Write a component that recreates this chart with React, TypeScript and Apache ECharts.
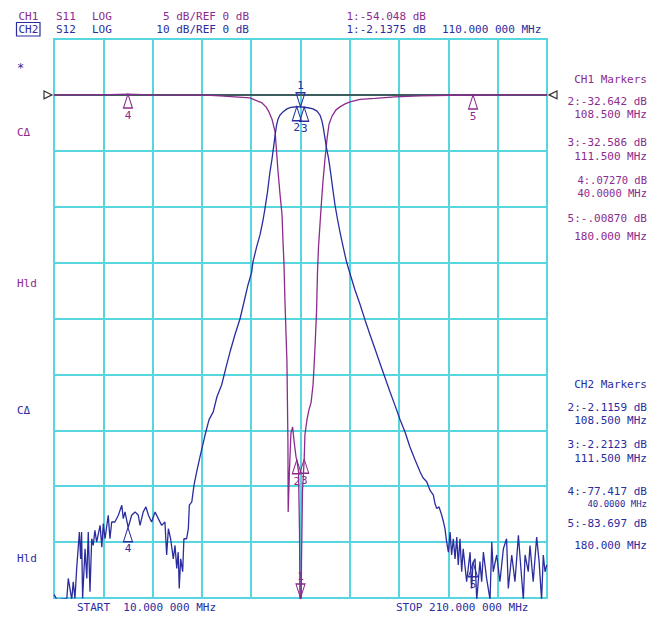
import React, { useEffect, useRef } from "react";
import * as echarts from "echarts";

// ---------- scales ----------
const START_MHZ = 10;
const STOP_MHZ = 210;
const CH1_MIN = -45; // 5 dB/div, ref 0 dB at division 9
const CH1_MAX = 5;
const CH2_MIN = -90; // 10 dB/div
const CH2_MAX = 10;
const DIVISIONS = 10;

// ---------- CH1 S11 trace (MHz, dB) ----------
const S11_FREQ = [
  10, 28.7, 40, 48.9, 71.3, 77.3, 83.4, 89.5, 92.4, 94.4, 96.0, 97.2, 98.4, 99.7,
  100.3, 100.9, 101.7, 102.5, 102.9, 103.3, 103.7, 104.1, 104.5, 104.7, 104.9, 105.0,
  105.5, 106.1, 106.8, 107.4, 108.2, 108.5, 109.2, 109.6, 110.0, 110.4, 110.8, 111.5,
  111.8, 112.6, 113.4, 114.3, 115.1, 115.5, 115.9, 116.5, 116.9, 117.3, 117.9, 118.5,
  119.1, 119.9, 120.8, 121.6, 122.8, 124.4, 126.0, 128.1, 130.1, 134.1, 140.2, 148.3,
  158.5, 170.7, 180, 210,
];
const S11_DB = [
  0, 0, 0.07, 0, -0.02, -0.09, -0.18, -0.27, -0.54, -0.72, -1.07, -1.52, -2.15, -3.3,
  -5.1, -6.9, -8.9, -10.7, -13.1, -15.1, -18.5, -21.2, -23.9, -27.5, -31.0, -37.3,
  -33.7, -30.3, -29.7, -31.0, -32.4, -32.64, -33.7, -39.1, -54.05, -41.8, -35.5, -32.59,
  -30.4, -29.1, -28.2, -27.5, -25.9, -24.3, -22.5, -19.4, -15.8, -13.6, -11.6, -9.6,
  -7.8, -5.8, -3.85, -2.6, -1.9, -1.34, -1.07, -0.8, -0.63, -0.4, -0.31, -0.18,
  -0.09, -0.03, -0.01, 0,
];

// ---------- CH2 S12 trace (MHz, dB) ----------
const S12_FREQ = [
  10.0, 11.2, 13.2, 15.2, 15.8, 17.2, 17.8, 18.5, 19.2, 20.3, 20.8, 21.2, 21.6, 22.6,
  23.3, 23.9, 24.6, 25.3, 25.9, 26.6, 27.3, 28.7, 29.4, 30.0, 30.7, 32.0, 32.7, 33.4,
  34.7, 36.1, 37.5, 38.1, 38.8, 40.1, 41.5, 42.9, 44.2, 44.9, 46.2, 47.3, 48.3, 49.6,
  51.0, 52.3, 53.7, 55.0, 55.7, 56.4, 57.3, 58.4, 59.1, 59.8, 60.4, 60.8, 61.4, 62.2,
  62.7, 63.8, 64.5, 64.9, 65.9, 66.8, 67.9, 69.2, 71.3, 72.9, 74.6, 76.1, 78.0, 79.8,
  81.4, 83.4, 85.5, 87.1, 88.7, 90.2, 90.7, 92.2, 93.6, 94.8, 95.6, 96.6, 97.6, 98.4,
  99.0, 99.7, 100.3, 100.9, 101.7, 103.0, 104.5, 106.1, 108.5, 110.0, 111.5, 113.0,
  115.1, 116.7, 117.9, 118.7, 119.3, 119.9, 120.6, 121.4, 122.0, 123.0, 124.0, 125.0,
  126.0, 127.3, 128.7, 130.1, 132.1, 134.1, 136.2, 138.2, 140.2, 142.3, 144.3, 146.3,
  148.3, 150.4, 152.4, 154.4, 156.5, 158.5, 159.7, 161.2, 162.5, 163.9, 164.6, 165.3,
  166.2, 167.3, 168.0, 168.6, 169.3, 170.0, 170.7, 171.3, 172.0, 172.7, 173.4, 174.0,
  174.7, 175.4, 176.0, 177.4, 178.8, 179.4, 180.0, 180.8, 181.5, 182.8, 183.5, 184.2,
  185.5, 186.9, 187.6, 188.2, 189.6, 190.9, 192.3, 193.6, 194.3, 195.7, 197.0, 198.4,
  199.0, 200.4, 201.1, 202.4, 203.1, 204.4, 205.8, 206.8, 207.8, 208.5, 209.2, 209.9,
];
const S12_DB = [
  -89.4, -90.3, -90.2, -90.1, -86.5, -90.3, -87.1, -90.1, -84.7, -78.2, -83.0, -78.2, -90.1, -81.2,
  -86.5, -78.2, -88.9, -79.4, -80.6, -77.9, -80.0, -77.0, -80.9, -76.7, -79.4, -75.2, -79.4, -76.4,
  -76.4, -75.2, -73.4, -75.8, -74.6, -77.4, -75.2, -74.6, -75.2, -77.0, -74.6, -73.7, -75.2, -76.4,
  -74.6, -75.8, -77.0, -76.4, -82.3, -77.6, -79.4, -83.0, -80.6, -84.7, -81.8, -88.3, -83.0, -85.3,
  -79.4, -79.4, -77.6, -73.4, -72.8, -69.8, -67.4, -64.8, -60.8, -58.1, -56.7, -54.0, -51.9, -48.7,
  -46.0, -42.9, -40.0, -37.0, -34.0, -31.7, -29.9, -27.2, -25.0, -22.4, -20.3, -17.4, -13.8, -11.6,
  -9.6, -7.2, -5.4, -4.3, -3.6, -3.0, -2.5, -2.24, -2.12, -2.14, -2.21, -2.3,
  -2.5, -2.9, -3.6, -4.65, -6.0, -7.7, -9.6, -11.4, -13.2, -16.5, -19.7, -22.2,
  -24.5, -27.2, -29.9, -32.0, -34.9, -37.4, -40.3, -42.9, -45.4, -48.1, -50.6, -53.1,
  -55.5, -58.1, -60.3, -63.0, -65.3, -67.4, -68.5, -69.2, -70.7, -71.6, -73.2, -74.0,
  -73.7, -75.2, -76.4, -77.6, -80.0, -81.8, -78.2, -82.3, -79.4, -83.0, -79.1, -84.1,
  -79.4, -85.3, -81.2, -87.1, -81.8, -88.3, -83.7, -83.0, -90.3, -83.5, -87.1, -81.8,
  -86.5, -90.3, -80.0, -85.3, -82.3, -87.1, -81.2, -79.4, -88.3, -82.3, -87.1, -78.8,
  -82.3, -90.3, -82.3, -85.3, -80.6, -87.1, -79.1, -83.5, -90.3, -82.3, -85.3, -84.1,
];

// ---------- reference line ----------
const REF_FREQ = [START_MHZ, STOP_MHZ];
const REF_DB = [0, 0];

// ---------- markers ----------
const MARKER_NAMES = ["1", "2", "3", "4", "5"];
const MARKER_FREQ = [110, 108.5, 111.5, 40, 180];
const CH1_MARKER_DB = [-54.048, -32.642, -32.586, 0.0727, -0.0087];
const CH2_MARKER_DB = [-2.1375, -2.1159, -2.2123, -77.417, -83.697];

// ---------- readout texts ----------
const HEADER_CH1 = ["CH1", "S11", "LOG", "5 dB/REF 0 dB", "1:-54.048 dB"];
const HEADER_CH2 = ["CH2", "S12", "LOG", "10 dB/REF 0 dB", "1:-2.1375 dB", "110.000 000 MHz"];
const CH1_READOUT = [
  "CH1 Markers", "2:-32.642 dB", "108.500 MHz", "3:-32.586 dB", "111.500 MHz",
  "4:.07270 dB", "40.0000 MHz", "5:-.00870 dB", "180.000 MHz",
];
const CH2_READOUT = [
  "CH2 Markers", "2:-2.1159 dB", "108.500 MHz", "3:-2.2123 dB", "111.500 MHz",
  "4:-77.417 dB", "40.0000 MHz", "5:-83.697 dB", "180.000 MHz",
];
const LEFT_LABELS_CH1 = ["CΔ", "Hld"];
const LEFT_LABELS_CH2 = ["CΔ", "Hld"];
const START_TEXT = "START  10.000 000 MHz";
const STOP_TEXT = "STOP 210.000 000 MHz";

// ---------- styles ----------
const PURPLE = "#8c2b8e";
const BLUE = "#2b2d9e";
const CYAN = "#57d6df";
const MONO = '"DejaVu Sans Mono", "Liberation Mono", monospace';

function txt(x: number, y: number, text: string, fill: string, align = "left", size = 11) {
  return {
    type: "text",
    x,
    y,
    silent: true,
    style: {
      text,
      fill,
      font: `${size}px ${MONO}`,
      textAlign: align,
      align,
      textVerticalAlign: "middle",
      verticalAlign: "middle",
    },
  };
}

function markerItems(dbs: number[], min: number, color: string) {
  return MARKER_NAMES.map((name, i) => {
    const active = i === 0;
    const v = Math.max(dbs[i], min);
    return {
      name,
      coord: [MARKER_FREQ[i], v],
      symbol: "triangle",
      symbolSize: [9, 14],
      symbolRotate: active ? 180 : 0,
      symbolOffset: [0, active ? "-50%" : "50%"],
      itemStyle: { color: "rgba(255,255,255,0)", borderColor: color, borderWidth: 1.2 },
      label: {
        show: true,
        formatter: "{b}",
        position: active ? "top" : "bottom",
        distance: 1,
        color,
        fontSize: 11,
        fontFamily: MONO,
      },
    };
  });
}

export default function App() {
  const ref = useRef<HTMLDivElement>(null);

  useEffect(() => {
    if (!ref.current) return;
    const chart = echarts.init(ref.current, undefined, { renderer: "svg" });

    const zip = (xs: number[], ys: number[]) => xs.map((x, i) => [x, ys[i]]);
    const divAxis = {
      type: "value",
      min: 0,
      max: DIVISIONS,
      interval: 1,
      axisLine: { show: false },
      axisTick: { show: false },
      axisLabel: { show: false },
      splitLine: { show: true, lineStyle: { color: CYAN, width: 2 } },
    };

    const graphic: any[] = [];
    // header rows
    const hx = [18.5, 56, 92];
    HEADER_CH1.slice(0, 3).forEach((s, i) => graphic.push(txt(hx[i], 16, s, PURPLE)));
    graphic.push(txt(249, 16, HEADER_CH1[3], PURPLE, "right"));
    graphic.push(txt(346.5, 16, HEADER_CH1[4], PURPLE));
    graphic.push({
      type: "line",
      silent: true,
      shape: { x1: 18, y1: 22.5, x2: 38.5, y2: 22.5 },
      style: { stroke: PURPLE, lineWidth: 1 },
    });
    HEADER_CH2.slice(0, 3).forEach((s, i) => graphic.push(txt(hx[i], 29.5, s, BLUE)));
    graphic.push(txt(249, 29.5, HEADER_CH2[3], BLUE, "right"));
    graphic.push(txt(346.5, 29.5, HEADER_CH2[4], BLUE));
    graphic.push(txt(442, 29.5, HEADER_CH2[5], BLUE));
    graphic.push({
      type: "rect",
      silent: true,
      shape: { x: 16.5, y: 22.5, width: 23.5, height: 13.5 },
      style: { fill: "none", stroke: BLUE, lineWidth: 1.2 },
    });

    // left annotations
    graphic.push(txt(17, 68, "*", BLUE, "left", 12));
    graphic.push(txt(17, 132, LEFT_LABELS_CH1[0], PURPLE));
    graphic.push(txt(17, 283, LEFT_LABELS_CH1[1], PURPLE));
    graphic.push(txt(17, 410, LEFT_LABELS_CH2[0], BLUE));
    graphic.push(txt(17, 558, LEFT_LABELS_CH2[1], BLUE));

    // right readouts
    const ch1Y = [79, 101, 114, 142, 156, 180, 192.5, 218, 236];
    const ch2Y = [384, 407, 420, 444, 458, 491, 504, 523, 545];
    CH1_READOUT.forEach((s, i) =>
      graphic.push(txt(647, ch1Y[i], s, PURPLE, "right", i === 5 || i === 6 ? 10.5 : 11))
    );
    CH2_READOUT.forEach((s, i) =>
      graphic.push(txt(647, ch2Y[i], s, BLUE, "right", i === 6 ? 9 : 11))
    );

    // start / stop
    graphic.push(txt(77, 607, START_TEXT, BLUE));
    graphic.push(txt(396, 607, STOP_TEXT, BLUE));

    chart.setOption({
      animation: false,
      backgroundColor: "#ffffff",
      grid: {
        left: 54,
        top: 39,
        width: 493,
        height: 559,
        show: true,
        borderColor: CYAN,
        borderWidth: 2,
        containLabel: false,
      },
      xAxis: [
        divAxis,
        { type: "value", min: START_MHZ, max: STOP_MHZ, show: false },
      ],
      yAxis: [
        divAxis,
        { type: "value", min: CH1_MIN, max: CH1_MAX, show: false },
        { type: "value", min: CH2_MIN, max: CH2_MAX, show: false },
      ],
      graphic,
      series: [
        {
          name: "REF",
          type: "line",
          xAxisIndex: 1,
          yAxisIndex: 1,
          data: zip(REF_FREQ, REF_DB),
          showSymbol: false,
          silent: true,
          z: 1,
          lineStyle: { color: "#333333", width: 1.5 },
          markPoint: {
            silent: true,
            data: [
              {
                coord: [REF_FREQ[0], REF_DB[0]],
                symbol: "triangle",
                symbolSize: [8, 8],
                symbolRotate: -90,
                symbolOffset: [-6, 0],
                itemStyle: { color: "#ffffff", borderColor: "#333333", borderWidth: 1.2 },
                label: { show: false },
              },
              {
                coord: [REF_FREQ[1], REF_DB[1]],
                symbol: "triangle",
                symbolSize: [8, 8],
                symbolRotate: 90,
                symbolOffset: [6, 0],
                itemStyle: { color: "#ffffff", borderColor: "#333333", borderWidth: 1.2 },
                label: { show: false },
              },
            ],
          },
        },
        {
          name: "S11",
          type: "line",
          xAxisIndex: 1,
          yAxisIndex: 1,
          data: zip(S11_FREQ, S11_DB),
          showSymbol: false,
          clip: true,
          z: 3,
          lineStyle: { color: PURPLE, width: 1.3 },
          markPoint: { silent: true, data: markerItems(CH1_MARKER_DB, CH1_MIN, PURPLE) },
        },
        {
          name: "S12",
          type: "line",
          xAxisIndex: 1,
          yAxisIndex: 2,
          data: zip(S12_FREQ, S12_DB),
          showSymbol: false,
          clip: true,
          z: 4,
          lineStyle: { color: BLUE, width: 1.3 },
          markPoint: { silent: true, data: markerItems(CH2_MARKER_DB, CH2_MIN, BLUE) },
        },
      ],
    });

    return () => chart.dispose();
  }, []);

  return (
    <div
      ref={ref}
      style={{ position: "fixed", left: 0, top: 0, width: 650, height: 619, background: "#fff" }}
    />
  );
}
